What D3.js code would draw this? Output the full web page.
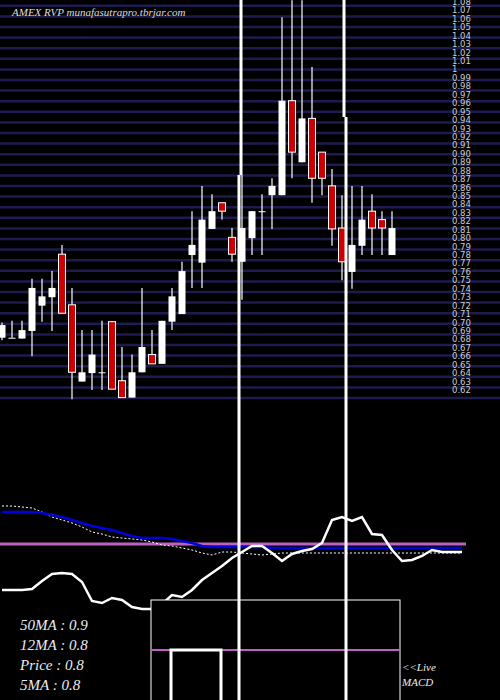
<!DOCTYPE html>
<html><head><meta charset="utf-8">
<script src="https://cdn.jsdelivr.net/npm/d3@7"></script>
<style>body{margin:0;background:#000}svg{display:block}</style>
</head><body><svg width="500" height="700"></svg>
<script>
// candles: open, high, low, close
const opens  = [.682,.682,.681,.690,.720,.730,.781,.721,.630,.640,.641,.701,.631,.611,.641,.662,.651,.701,.710,.780,.771,.811,.842,.801,.772,.800,.832,.851,.851,.963,.890,.942,.902,.862,.812,.760,.791,.832,.822,.780];
const highs  = [.700,.702,.702,.752,.752,.761,.792,.741,.691,.691,.702,.701,.671,.662,.741,.691,.702,.741,.772,.832,.862,.852,.842,.812,.875,.832,.852,.871,1.062,1.082,1.082,1.003,.902,.882,.851,.862,.862,.852,.832,.832];
const lows   = [.679,.682,.681,.660,.701,.690,.711,.609,.630,.620,.620,.621,.611,.611,.641,.651,.651,.691,.710,.741,.741,.811,.822,.772,.727,.780,.780,.811,.851,.871,.890,.842,.851,.791,.750,.740,.780,.780,.780,.780];
const closes = [.697,.682,.691,.741,.731,.741,.711,.641,.641,.662,.641,.621,.611,.641,.671,.651,.702,.731,.761,.792,.822,.832,.832,.781,.812,.832,.832,.862,.963,.902,.942,.871,.871,.811,.772,.792,.822,.812,.812,.812];
const priceTicks = d3.range(108, 61, -1).map(d => d / 100);

// lower panel lines
const macdLine = [-4.6,-4.6,-4.6,-4.5,-3.7,-3.0,-2.9,-3.0,-3.8,-5.7,-5.9,-5.4,-5.6,-6.3,-6.5,-6.5,-6.0,-5.1,-5.3,-4.6,-3.6,-2.9,-2.2,-1.4,-0.8,-0.2,-0.2,-0.9,-1.7,-1.0,-0.7,-0.5,0.1,2.4,2.7,2.3,2.7,1.0,0.9,-0.6,-1.7,-1.6,-1.2,-0.6,-0.8,-0.8,-0.8];
const ma12 = [3.2,3.2,3.2,3.2,3.1,2.9,2.7,2.4,2.1,1.8,1.6,1.4,1.1,0.8,0.6,0.6,0.6,0.5,0.3,0.1,-0.2,-0.3,-0.3,-0.3,-0.3,-0.3,-0.3,-0.4,-0.4,-0.4,-0.4,-0.4,-0.4,-0.4,-0.4,-0.4,-0.4,-0.4,-0.4,-0.4,-0.4,-0.4,-0.4,-0.4,-0.4,-0.4,-0.4];
const ma26 = [3.8,3.8,3.7,3.6,3.2,2.7,2.4,2.1,1.7,1.2,1.0,0.7,0.6,0.5,0.4,0.2,-0.1,-0.2,-0.4,-0.6,-0.9,-1.1,-0.8,-0.8,-0.9,-1.0,-1.1,-1.0,-0.9,-0.9,-0.9,-0.9,-0.9,-0.9,-0.9,-0.9,-0.9,-0.9,-0.9,-0.9,-0.9,-0.9,-0.9,-0.9,-0.9,-0.9,-0.9];
const histX = [0, 0, 5, 5];
const histY = [-5, 0, 0, -5];
const labels = ["50MA : 0.9", "12MA : 0.8", "Price   : 0.8", "5MA : 0.8"];

const svg = d3.select("svg");
svg.append("rect").attr("width", 500).attr("height", 700).attr("fill", "#000");

const y = d3.scaleLinear().domain([1.08, 0.62]).range([2, 390]);
const x = d3.scaleLinear().domain([0, 39]).range([2, 392]);

// grid
svg.append("g").selectAll("line").data(d3.range(38)).join("line")
  .attr("x1", 0).attr("x2", 500)
  .attr("y1", k => 398 - k * 10.6).attr("y2", k => 398 - k * 10.6)
  .attr("stroke", "#1c1c50").attr("stroke-width", 2.5);

// price labels
svg.append("g").selectAll("text").data(priceTicks).join("text")
  .attr("x", 452).attr("y", d => y(d) + 3)
  .attr("fill", "#ccc").attr("font-family", "DejaVu Sans").attr("font-size", 8.5)
  .text(d => d === 1 ? "1" : d3.format(".2f")(d));

// candles
const cg = svg.append("g");
opens.forEach((o, i) => {
  const c = closes[i], up = c >= o;
  cg.append("line").attr("x1", x(i)).attr("x2", x(i))
    .attr("y1", y(highs[i])).attr("y2", y(lows[i]))
    .attr("stroke", "#fff").attr("stroke-width", 1.2);
  const top = y(Math.max(o, c)), h = Math.max(1, y(Math.min(o, c)) - top);
  cg.append("rect").attr("x", x(i) - 3.5).attr("y", top).attr("width", 7).attr("height", h)
    .attr("fill", up ? "#fff" : "#cc0000").attr("stroke", "#fff").attr("stroke-width", up ? 0 : 1);
});

svg.append("text").attr("x", 12).attr("y", 16).attr("fill", "#ddd")
  .attr("font-family", "Liberation Serif").attr("font-style", "italic").attr("font-size", 11)
  .text("AMEX  RVP munafasutrapro.tbrjar.com");

// lower panel
const lx = d3.scaleLinear().domain([0, 46]).range([2, 462]);
const ly = d3.scaleLinear().domain([0, -10]).range([544, 644]);
svg.append("line").attr("x1", 0).attr("x2", 466).attr("y1", ly(0)).attr("y2", ly(0))
  .attr("stroke", "#c060c0").attr("stroke-width", 3);
const ln = d3.line().x((d, i) => lx(i)).y(d => ly(d));
svg.append("path").attr("d", ln(ma26)).attr("fill", "none").attr("stroke", "#fff").attr("stroke-width", 1).attr("stroke-dasharray", "2,2");
svg.append("path").attr("d", ln(ma12)).attr("fill", "none").attr("stroke", "#0000dd").attr("stroke-width", 2.5);
svg.append("path").attr("d", ln(macdLine)).attr("fill", "none").attr("stroke", "#fff").attr("stroke-width", 2.5);

// box
svg.append("rect").attr("x", 151).attr("y", 600).attr("width", 249).attr("height", 110)
  .attr("fill", "#000").attr("stroke", "#fff").attr("stroke-width", 1);
const hy = d3.scaleLinear().domain([0, -5]).range([650, 700]);
svg.append("line").attr("x1", 151).attr("x2", 400).attr("y1", hy(0)).attr("y2", hy(0))
  .attr("stroke", "#c060c0").attr("stroke-width", 2);
svg.append("path").attr("d", d3.line().x(d => 171 + d * 10).y((d, i) => hy(histY[i]))(histX))
  .attr("fill", "none").attr("stroke", "#fff").attr("stroke-width", 3);

// vertical lines
svg.append("path").attr("d", "M241,0V175M239,175V700").attr("stroke", "#fff").attr("stroke-width", 3).attr("fill", "none");
svg.append("path").attr("d", "M344,0V117M346,117V700").attr("stroke", "#fff").attr("stroke-width", 3).attr("fill", "none");

svg.append("g").selectAll("text").data(labels).join("text")
  .attr("x", 20).attr("y", (d, i) => 630 + i * 20)
  .attr("fill", "#eee").attr("font-family", "Liberation Serif").attr("font-style", "italic").attr("font-size", 15)
  .text(d => d);
svg.append("text").attr("x", 402).attr("y", 671).attr("fill", "#eee")
  .attr("font-family", "Liberation Serif").attr("font-style", "italic").attr("font-size", 11).text("<<Live");
svg.append("text").attr("x", 402).attr("y", 686).attr("fill", "#eee")
  .attr("font-family", "Liberation Serif").attr("font-style", "italic").attr("font-size", 11).text("MACD");
</script></body></html>
